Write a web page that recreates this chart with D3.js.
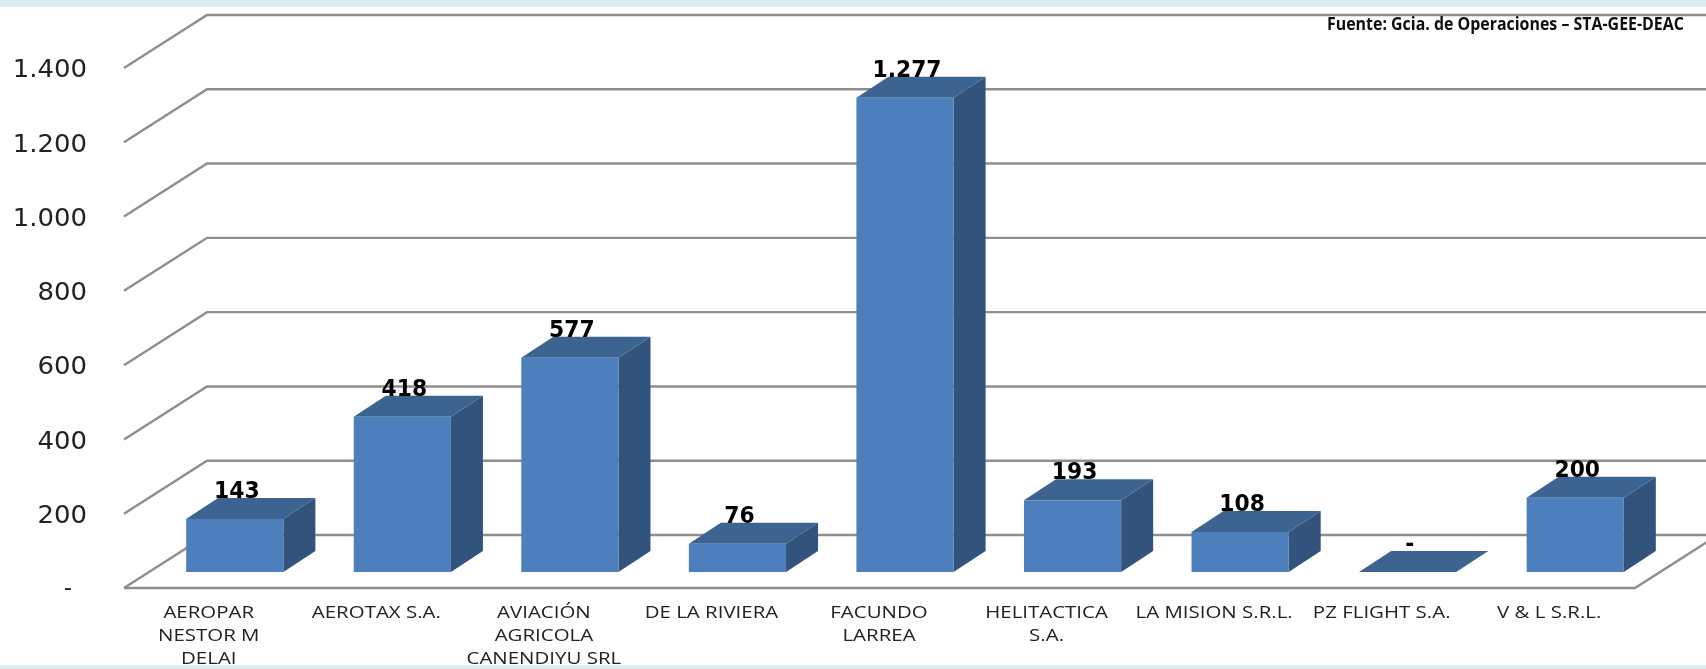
<!DOCTYPE html>
<html>
<head>
<meta charset="utf-8">
<script src="https://cdn.jsdelivr.net/npm/d3@7"></script>
<style>
html, body { margin: 0; padding: 0; background: #fff; overflow: hidden; }
svg { display: block; }
</style>
</head>
<body>
<div id="chart"></div>
<script>
let categories = [
    ["AEROPAR", "NESTOR M", "DELAI"],
    ["AEROTAX S.A."],
    ["AVIACIÓN", "AGRICOLA", "CANENDIYU SRL"],
    ["DE LA RIVIERA"],
    ["FACUNDO", "LARREA"],
    ["HELITACTICA", "S.A."],
    ["LA MISION S.R.L."],
    ["PZ FLIGHT S.A."],
    ["V & L S.R.L."]
]
let values = [143, 418, 577, 76, 1277, 193, 108, 0, 200]
let yTicks = [0, 200, 400, 600, 800, 1000, 1200, 1400]
let source = "Fuente: Gcia. de Operaciones – STA-GEE-DEAC"

let colors = {
    band: "#daecf2",
    grid: "#8e8e8e",
    front: "#4e7fbc",
    top: "#3d6490",
    side: "#31537b",
    text: "#222222"
}

const width = 1706, height = 669

// 3d offsets: wall is pushed back from the front edge, bars sit inside the floor
const wall = { dx: 83, dy: 53 }
const barShift = { dx: 24, dy: 16 }
const barDepth = { dx: 32, dy: 21 }

const fmt = d3.formatLocale({ decimal: ",", thousands: ".", grouping: [3], currency: ["", ""] }).format(",")
const label = v => v === 0 ? "-" : fmt(v)

const svg = d3.select("#chart").append("svg")
    .attr("width", width)
    .attr("height", height)

svg.append("defs").append("filter")
    .attr("id", "soft")
    .attr("filterUnits", "userSpaceOnUse")
    .attr("x", 0).attr("y", 0).attr("width", width).attr("height", height)
    .append("feGaussianBlur").attr("stdDeviation", 0.55)

const root = svg.append("g").attr("filter", "url(#soft)")

root.append("rect").attr("width", width).attr("height", height).attr("fill", "#fff")

// page bands above and below the picture
root.append("rect").attr("width", width).attr("height", 7).attr("fill", colors.band)
root.append("rect").attr("y", 665).attr("width", width).attr("height", 4).attr("fill", colors.band)

// y is the back wall, x is the front edge of the floor
const y = d3.scaleLinear().domain([0, 1400]).range([535, 15])
const x = d3.scaleBand()
    .domain(categories.map((d, i) => i))
    .range([127, 1635])
    .paddingInner(0.42)
    .paddingOuter(0.21)

const x0 = 124, xBack = x0 + wall.dx

// gridlines
const grid = root.append("g")
    .attr("fill", "none")
    .attr("stroke", colors.grid)
    .attr("stroke-width", 2.4)

grid.selectAll("path")
    .data(yTicks)
    .join("path")
    .attr("d", d => `M${x0},${y(d) + wall.dy}L${xBack},${y(d)}L${width + 10},${y(d)}`)

grid.append("path")
    .attr("d", `M${x0},${y(0) + wall.dy}L${x.range()[1]},${y(0) + wall.dy}L${x.range()[1] + wall.dx},${y(0)}`)

// y axis labels
const yAxis = d3.axisLeft(d3.scaleLinear().domain(y.domain()).range(y.range().map(d => d + wall.dy)))
    .tickValues(yTicks.slice(1))
    .tickSize(0)
    .tickFormat(label)

const yG = root.append("g")
    .attr("transform", "translate(87,1)")
    .call(yAxis)
yG.select(".domain").remove()
yG.selectAll("text")
    .attr("x", 0)
    .attr("font-family", "DejaVu Sans")
    .attr("font-size", 24.5)
    .attr("fill", colors.text)
    .attr("transform", "scale(1.06,1)")

root.append("text")
    .attr("x", 68)
    .attr("y", y(0) + wall.dy + 7)
    .attr("text-anchor", "middle")
    .attr("font-family", "DejaVu Sans")
    .attr("font-size", 23)
    .attr("fill", colors.text)
    .text(label(0))

// bars
const barBase = y(0) + wall.dy - barShift.dy
const h = d => y(0) - y(d)
const bw = x.bandwidth()

const bars = root.selectAll(".bar")
    .data(values)
    .join("g")
    .attr("class", "bar")
    .attr("transform", (d, i) => `translate(${x(i) + barShift.dx},${barBase})`)

bars.append("path")
    .attr("fill", colors.side)
    .attr("d", d => `M${bw},0L${bw + barDepth.dx},${-barDepth.dy}L${bw + barDepth.dx},${-barDepth.dy - h(d)}L${bw},${-h(d)}Z`)

bars.append("path")
    .attr("fill", colors.top)
    .attr("d", d => `M0,${-h(d)}L${barDepth.dx},${-h(d) - barDepth.dy}L${bw + barDepth.dx},${-h(d) - barDepth.dy}L${bw},${-h(d)}Z`)

bars.append("rect")
    .attr("y", d => -h(d))
    .attr("width", bw)
    .attr("height", d => h(d))
    .attr("fill", colors.front)

bars.append("text")
    .attr("transform", d => `translate(${bw / 2 + 2},${-h(d) - barDepth.dy}) scale(0.93,1)`)
    .attr("text-anchor", "middle")
    .attr("font-family", "DejaVu Sans")
    .attr("font-weight", "bold")
    .attr("font-size", 23.5)
    .attr("fill", "#000")
    .text(label)

// category labels
const catG = root.append("g")
    .selectAll("text")
    .data(categories)
    .join("text")
    .attr("transform", (d, i) => `translate(${x(i) + bw / 2 - 2},617.5) scale(1.24,1)`)
    .attr("text-anchor", "middle")
    .attr("font-family", "Open Sans")
    .attr("font-size", 16.5)
    .attr("fill", colors.text)

catG.selectAll("tspan")
    .data(d => d)
    .join("tspan")
    .attr("x", 0)
    .attr("y", (d, i) => i * 23.2)
    .text(d => d)

// source note, squeezed to the same width as the original
const sourceText = root.append("text")
    .attr("font-family", "Open Sans")
    .attr("font-weight", "bold")
    .attr("font-size", 17)
    .attr("fill", "#111")
    .text(source)
const sx = 357 / sourceText.node().getComputedTextLength()
sourceText.attr("transform", `translate(1327,30) scale(${sx},1)`)
</script>
</body>
</html>
